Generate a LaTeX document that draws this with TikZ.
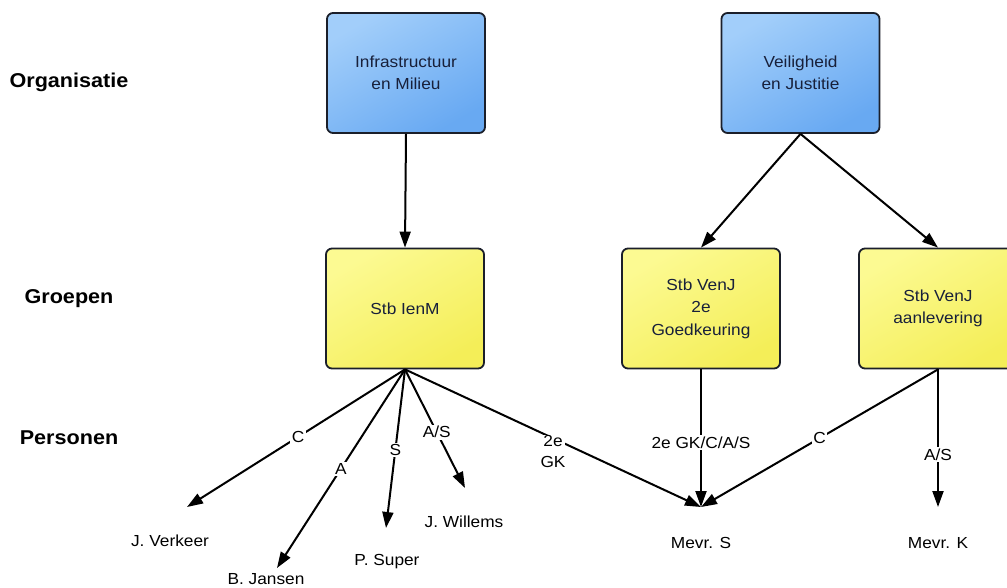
\documentclass[tikz,border=0pt]{standalone}
\usepackage{fontspec}
\setmainfont{Liberation Sans}[FakeStretch=1.08]
\usetikzlibrary{arrows.meta}
\definecolor{blueL}{HTML}{A2CEFA}
\definecolor{blueD}{HTML}{68A9F2}
\definecolor{yelL}{HTML}{FCFA92}
\definecolor{yelD}{HTML}{F4EE58}
\definecolor{edgeC}{HTML}{1B1F2A}
\definecolor{boxtxt}{HTML}{18203A}
\begin{document}
\begin{tikzpicture}[x=1pt,y=-1pt,
  box/.style={draw=edgeC, line width=1.8pt, rounded corners=6pt, minimum width=158pt, minimum height=120pt, align=center, text=boxtxt, font=\fontsize{16}{22.5}\selectfont, inner sep=0pt},
  orgbox/.style={box, top color=blueL, bottom color=blueD, shading angle=30},
  grpbox/.style={box, top color=yelL, bottom color=yelD, shading angle=30},
  lvl/.style={font=\fontsize{20}{24}\selectfont\bfseries},
  person/.style={font=\fontsize{16}{20}\selectfont},
  conn/.style={line width=2pt, -{Triangle[length=16pt,width=11pt]}},
  elab/.style={fill=white, inner sep=1.5pt, font=\fontsize{16}{21}\selectfont, align=center}
]
\useasboundingbox (0,0) rectangle (1007,587);
\fill[white] (0,0) rectangle (1007,587);

% level labels
\node[lvl] (lo) at (69,82) {Organisatie};
\node[lvl] (lg) at (69,299) {Groepen};
\node[lvl] (lp) at (69,438) {Personen};

% boxes
\node[orgbox] (im) at (406,73) {Infrastructuur\\en Milieu};
\node[orgbox] (vj) at (800.5,73) {Veiligheid\\en Justitie};
\node[grpbox] (sim) at (405,308.5) {Stb IenM};
\node[grpbox] (s2e) at (701,308.5) {Stb VenJ\\2e\\Goedkeuring};
\node[grpbox] (saan) at (938,308.5) {Stb VenJ\\aanlevering};

% persons
\node[person] (pV) at (170,541) {J. Verkeer};
\node[person] (pJ) at (266,579) {B. Jansen};
\node[person] (pP) at (387,562) {P. Super};
\node[person] (pW) at (464,522) {J. Willems};
\node[person] (pS) at (701,543) {Mevr. S};
\node[person] (pK) at (938,543) {Mevr. K};

% arrow end points
\coordinate (tV) at (187,507);
\coordinate (tJ) at (277,568);
\coordinate (tP) at (386,528);
\coordinate (tW) at (465,488);
\coordinate (tS) at (701,507);
\coordinate (tK) at (938,507);

% connectors
\draw[conn] (im.south) -- (sim.north);
\draw[conn] (vj.south) -- (s2e.north);
\draw[conn] (vj.south) -- (saan.north);

\draw[conn] (sim.south) -- node[elab,pos=0.49]{C} (tV);
\draw[conn] (sim.south) -- node[elab,pos=0.5]{A} (tJ);
\draw[conn] (sim.south) -- node[elab,pos=0.51]{S} (tP);
\draw[conn] (sim.south) -- node[elab,pos=0.53]{A/S} (tW);
\draw[conn] (sim.south) -- node[elab,pos=0.5,yshift=-13pt,inner sep=0pt]{2e\\GK} (tS);
\draw[conn] (s2e.south) -- node[elab,pos=0.53]{2e GK/C/A/S} (tS);
\draw[conn] (saan.south) -- node[elab,pos=0.5]{C} (tS);
\draw[conn] (saan.south) -- node[elab,pos=0.62]{A/S} (tK);
\end{tikzpicture}
\end{document}
